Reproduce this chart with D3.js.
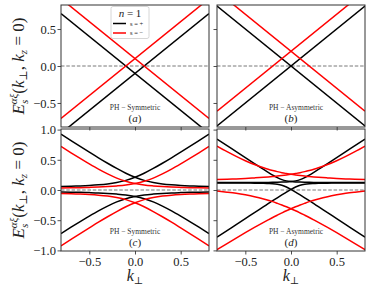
<!DOCTYPE html>
<html lang="en">
<head>
<meta charset="UTF-8">
<title>Band structure, n = 1</title>
<style>
  body { margin: 0; background: #fff; }
  svg text { font-family: "Liberation Serif", "DejaVu Serif", serif; }
</style>
</head>
<body>
<svg id="chart" width="384" height="288"></svg>
<script src="https://d3js.org/d3.v7.min.js"></script>
<script>
// ---- data ----
// top row: straight bands, two end points each
const kLine = [-0.81, 0.81];
const aBlack = [[0.71, -0.91], [-0.91, 0.71]];
const aRed = [[0.91, -0.71], [-0.71, 0.91]];
const bBlack = [[0.81, -0.81], [-0.81, 0.81]];
const bRed = [[1.01, -0.61], [-0.61, 1.01]];

// panel (c), PH-symmetric hybridised bands
const kC = [-0.81, -0.7, -0.6, -0.5, -0.4, -0.3, -0.2, -0.1, 0, 0.1, 0.2, 0.3, 0.4, 0.5, 0.6, 0.7, 0.81];
const cBlack = [
  [0.924, 0.818, 0.722, 0.627, 0.533, 0.443, 0.357, 0.278, 0.211, 0.159, 0.124, 0.100, 0.085, 0.075, 0.068, 0.063, 0.058],
  [0.058, 0.063, 0.068, 0.075, 0.085, 0.100, 0.124, 0.159, 0.211, 0.278, 0.357, 0.443, 0.533, 0.627, 0.722, 0.818, 0.924],
  [-0.721, -0.616, -0.523, -0.432, -0.345, -0.266, -0.197, -0.144, -0.107, -0.082, -0.067, -0.056, -0.048, -0.043, -0.039, -0.036, -0.033],
  [-0.033, -0.036, -0.039, -0.043, -0.048, -0.056, -0.067, -0.082, -0.107, -0.144, -0.197, -0.266, -0.345, -0.432, -0.523, -0.616, -0.721]
];
const cRed = [
  [0.721, 0.616, 0.523, 0.432, 0.345, 0.266, 0.197, 0.144, 0.107, 0.082, 0.067, 0.056, 0.048, 0.043, 0.039, 0.036, 0.033],
  [0.033, 0.036, 0.039, 0.043, 0.048, 0.056, 0.067, 0.082, 0.107, 0.144, 0.197, 0.266, 0.345, 0.432, 0.523, 0.616, 0.721],
  [-0.924, -0.818, -0.722, -0.627, -0.533, -0.443, -0.357, -0.278, -0.211, -0.159, -0.124, -0.100, -0.085, -0.075, -0.068, -0.063, -0.058],
  [-0.058, -0.063, -0.068, -0.075, -0.085, -0.100, -0.124, -0.159, -0.211, -0.278, -0.357, -0.443, -0.533, -0.627, -0.722, -0.818, -0.924]
];

// panel (d), PH-asymmetric hybridised bands
const kD = [-0.81, -0.7, -0.6, -0.5, -0.4, -0.3, -0.25, -0.2, -0.15, -0.1, -0.05, 0, 0.05, 0.1, 0.15, 0.2, 0.25, 0.3, 0.4, 0.5, 0.6, 0.7, 0.81];
const dBlack = [
  [0.843, 0.734, 0.634, 0.535, 0.437, 0.340, 0.293, 0.247, 0.206, 0.172, 0.151, 0.140, 0.134, 0.131, 0.129, 0.127, 0.126, 0.126, 0.125, 0.124, 0.123, 0.123, 0.123],
  [0.123, 0.123, 0.123, 0.124, 0.125, 0.126, 0.126, 0.127, 0.129, 0.131, 0.134, 0.140, 0.151, 0.172, 0.206, 0.247, 0.293, 0.340, 0.437, 0.535, 0.634, 0.734, 0.843],
  [-0.782, -0.673, -0.573, -0.474, -0.374, -0.276, -0.226, -0.177, -0.129, -0.081, -0.034, 0.010, 0.049, 0.078, 0.094, 0.103, 0.107, 0.110, 0.113, 0.115, 0.116, 0.116, 0.117],
  [0.117, 0.116, 0.116, 0.115, 0.113, 0.110, 0.107, 0.103, 0.094, 0.078, 0.049, 0.010, -0.034, -0.081, -0.129, -0.177, -0.226, -0.276, -0.374, -0.474, -0.573, -0.673, -0.782]
];
const dRed = [
  [0.727, 0.635, 0.557, 0.485, 0.421, 0.367, 0.344, 0.323, 0.304, 0.287, 0.273, 0.260, 0.249, 0.239, 0.230, 0.223, 0.216, 0.210, 0.200, 0.191, 0.184, 0.179, 0.173],
  [0.173, 0.179, 0.184, 0.191, 0.200, 0.210, 0.216, 0.223, 0.230, 0.239, 0.249, 0.260, 0.273, 0.287, 0.304, 0.323, 0.344, 0.367, 0.421, 0.485, 0.557, 0.635, 0.727],
  [-0.989, -0.887, -0.796, -0.707, -0.620, -0.536, -0.495, -0.455, -0.417, -0.380, -0.344, -0.310, -0.278, -0.248, -0.220, -0.193, -0.170, -0.148, -0.110, -0.080, -0.055, -0.036, -0.018],
  [-0.018, -0.036, -0.055, -0.080, -0.110, -0.148, -0.170, -0.193, -0.220, -0.248, -0.278, -0.310, -0.344, -0.380, -0.417, -0.455, -0.495, -0.536, -0.620, -0.707, -0.796, -0.887, -0.989]
];

const xTicks = [-0.5, 0.0, 0.5];
const yTicksTop = [-0.5, 0.0, 0.5];
const yTicksBottom = [-1.0, -0.5, 0.0, 0.5, 1.0];
const legendItems = [{ label: "s = +", color: "#000" }, { label: "s = \u2212", color: "#ff0000" }];

// ---- layout ----
const svg = d3.select("#chart");
const panels = [
  { id: "a", x0: 61, y0: 5, w: 148, h: 122, yDom: [-0.825, 0.825], yTicks: yTicksTop, k: kLine, black: aBlack, red: aRed,
    note: "PH \u2212 Symmetric", yLabels: true, xLabels: false },
  { id: "b", x0: 217, y0: 5, w: 148, h: 122, yDom: [-0.825, 0.825], yTicks: yTicksTop, k: kLine, black: bBlack, red: bRed,
    note: "PH \u2212 Asymmetric", yLabels: false, xLabels: false },
  { id: "c", x0: 61, y0: 129, w: 148, h: 122, yDom: [-1.01, 1.01], yTicks: yTicksBottom, k: kC, black: cBlack, red: cRed,
    note: "PH \u2212 Symmetric", yLabels: true, xLabels: true },
  { id: "d", x0: 217, y0: 129, w: 148, h: 122, yDom: [-1.01, 1.01], yTicks: yTicksBottom, k: kD, black: dBlack, red: dRed,
    note: "PH \u2212 Asymmetric", yLabels: false, xLabels: true }
];

const fmt = d => d3.format(".1f")(d).replace("-", "\u2212");

panels.forEach(p => {
  const x = d3.scaleLinear().domain([-0.81, 0.81]).range([0, p.w]);
  const y = d3.scaleLinear().domain(p.yDom).range([p.h, 0]);
  const g = svg.append("g").attr("transform", `translate(${p.x0},${p.y0})`);

  g.append("clipPath").attr("id", "clip-" + p.id)
    .append("rect").attr("width", p.w).attr("height", p.h);

  const plot = g.append("g").attr("clip-path", `url(#clip-${p.id})`);

  // zero line
  plot.append("line")
    .attr("x1", 0).attr("x2", p.w)
    .attr("y1", y(0)).attr("y2", y(0))
    .attr("stroke", "#555").attr("stroke-width", 0.8)
    .attr("stroke-dasharray", "3.5,1.8");

  const line = d3.line()
    .x((d, i) => x(p.k[i]))
    .y(d => y(d))
    .curve(d3.curveMonotoneX);

  plot.selectAll(".black").data(p.black).join("path")
    .attr("class", "black")
    .attr("d", line)
    .attr("fill", "none").attr("stroke", "#000").attr("stroke-width", 1.5);

  plot.selectAll(".red").data(p.red).join("path")
    .attr("class", "red")
    .attr("d", line)
    .attr("fill", "none").attr("stroke", "#ff0000").attr("stroke-width", 1.5);

  // axes
  const xAxis = g.append("g").attr("transform", `translate(0,${p.h})`)
    .call(d3.axisBottom(x).tickValues(xTicks).tickSize(3.5).tickPadding(2.5).tickFormat(p.xLabels ? fmt : ""));
  const yAxis = g.append("g")
    .call(d3.axisLeft(y).tickValues(p.yTicks).tickSize(3.5).tickFormat(p.yLabels ? fmt : ""));
  [xAxis, yAxis].forEach(ax => {
    ax.select(".domain").remove();
    ax.selectAll("line").attr("stroke", "#222").attr("stroke-width", 0.8);
    ax.selectAll("text").attr("fill", "#222")
      .style("font-family", "'Liberation Serif', serif").style("font-size", "12.5px");
  });
  yAxis.selectAll("text").attr("x", -5).attr("dy", "0.35em");

  // frame
  g.append("rect").attr("width", p.w).attr("height", p.h)
    .attr("fill", "none").attr("stroke", "#333").attr("stroke-width", 1);

  // annotations
  g.append("text")
    .attr("x", p.w / 2 + (p.id === "b" || p.id === "d" ? 5 : 0)).attr("y", p.h - 17)
    .attr("text-anchor", "middle")
    .style("font-size", "7.5px").attr("fill", "#333")
    .text(p.note);
  g.append("text")
    .attr("x", p.w / 2).attr("y", p.h - 5)
    .attr("text-anchor", "middle")
    .style("font-size", "11px").attr("fill", "#222")
    .html(`(<tspan font-style="italic">${p.id}</tspan>)`);

  if (p.yLabels) {
    const lab = svg.append("text")
      .attr("transform", `translate(24,${p.y0 + p.h / 2}) rotate(-90)`)
      .attr("text-anchor", "middle")
      .style("font-size", "17px").attr("fill", "#222");
    lab.append("tspan").attr("font-style", "italic").text("E");
    lab.append("tspan").attr("font-style", "italic").attr("font-size", "11px").attr("dy", 4).text("s");
    lab.append("tspan").attr("font-style", "italic").attr("font-size", "11px").attr("dx", -4.5).attr("dy", -11).text("\u03b1\u03be");
    lab.append("tspan").attr("dy", 7).text("(");
    lab.append("tspan").attr("font-style", "italic").text("k");
    lab.append("tspan").attr("font-size", "11px").attr("dy", 3).text("\u22a5");
    lab.append("tspan").attr("dy", -3).text(", ");
    lab.append("tspan").attr("font-style", "italic").text("k");
    lab.append("tspan").attr("font-style", "italic").attr("font-size", "11px").attr("dy", 3).text("z");
    lab.append("tspan").attr("dy", -3).text(" = 0)");
  }
  if (p.xLabels) {
    const xl = svg.append("text")
      .attr("x", p.x0 + p.w / 2).attr("y", 281)
      .attr("text-anchor", "middle")
      .style("font-size", "16px").attr("fill", "#222");
    xl.append("tspan").attr("font-style", "italic").text("k");
    xl.append("tspan").attr("font-size", "10px").attr("dy", 3).text("\u22a5");
  }

  // legend in panel (a)
  if (p.id === "a") {
    const lg = g.append("g").attr("transform", `translate(${p.w / 2 - 24},1.5)`);
    lg.append("rect").attr("width", 38).attr("height", 32).attr("rx", 2)
      .attr("fill", "#fff").attr("fill-opacity", 0.85)
      .attr("stroke", "#ccc").attr("stroke-width", 0.8);
    const title = lg.append("text").attr("x", 19).attr("y", 10)
      .attr("text-anchor", "middle").style("font-size", "11px").attr("fill", "#222");
    title.append("tspan").attr("font-style", "italic").text("n");
    title.append("tspan").text(" = 1");
    legendItems.forEach((it, i) => {
      lg.append("line").attr("x1", 2).attr("x2", 15)
        .attr("y1", 17 + i * 9.5).attr("y2", 17 + i * 9.5)
        .attr("stroke", it.color).attr("stroke-width", 1.5);
      lg.append("text").attr("x", 19).attr("y", 19 + i * 9.5)
        .style("font-size", "6.5px").attr("fill", "#222")
        .text(it.label);
    });
  }
});
</script>
</body>
</html>
